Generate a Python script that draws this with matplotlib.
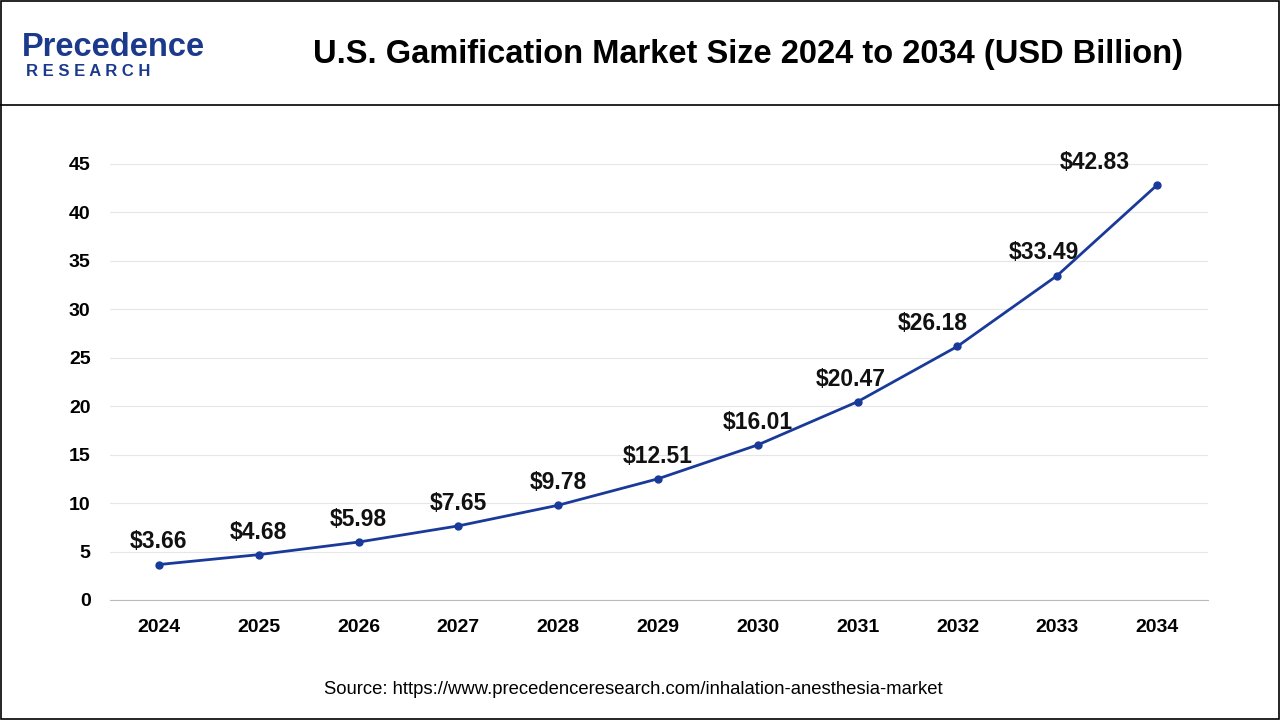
import matplotlib
matplotlib.use("Agg")
import matplotlib.pyplot as plt
from matplotlib.patches import Rectangle
from matplotlib.lines import Line2D

plt.rcParams["font.family"] = "Liberation Sans"

years = [2024, 2025, 2026, 2027, 2028, 2029, 2030, 2031, 2032, 2033, 2034]
values = [3.66, 4.68, 5.98, 7.65, 9.78, 12.51, 16.01, 20.47, 26.18, 33.49, 42.83]
labels = ["$3.66", "$4.68", "$5.98", "$7.65", "$9.78", "$12.51", "$16.01", "$20.47", "$26.18", "$33.49", "$42.83"]
yticks = [0, 5, 10, 15, 20, 25, 30, 35, 40, 45]

label_dx = [0, 0, 0, 0, 0, 0, 0, -5, -18, -10, -45]

color = "#1a3a9a"
fig = plt.figure(figsize=(12.8, 7.2), dpi=100)
fig.patches.append(Rectangle((0.001, 0.001), 0.998, 0.998, transform=fig.transFigure,
                             fill=False, edgecolor="black", linewidth=1.2))
fig.lines.append(Line2D([0, 1], [1 - 105/720]*2, transform=fig.transFigure, color="black", linewidth=1.2))

ax = fig.add_axes([110/1280, 1 - 600/720, 1098/1280, 436/720])
ax.plot(years, values, color=color, linewidth=2, marker="o", markersize=5)
for x, v, l, dx in zip(years, values, labels, label_dx):
    ax.annotate(l, (x, v), xytext=(dx, 8), textcoords="offset points", ha="center", va="bottom",
                fontsize=16.5, fontweight="bold", color="#111111")
ax.set_xlim(2023.51, 2034.51)
ax.set_ylim(0, 45)
ax.set_yticks(yticks)
ax.set_xticks(years)
ax.tick_params(length=0, labelsize=14, pad=14)
for t in ax.get_xticklabels() + ax.get_yticklabels():
    t.set_fontweight("bold")
ax.yaxis.grid(True, color="#e6e6e6", linewidth=0.8)
ax.set_axisbelow(True)
for s in ["top", "right", "left"]:
    ax.spines[s].set_visible(False)
ax.spines["bottom"].set_color("#bbbbbb")

fig.text(748/1280, 1 - 55/720, "U.S. Gamification Market Size 2024 to 2034 (USD Billion)",
         ha="center", va="center", fontsize=23.5, fontweight="bold")
fig.text(22/1280, 1 - 48/720, "Precedence", ha="left", va="center", fontsize=23.5,
         fontweight="bold", color="#1c3a8c")
fig.text(26/1280, 1 - 72/720, "R E S E A R C H", ha="left", va="center", fontsize=12,
         fontweight="bold", color="#1c3a8c")
fig.text(633/1280, 1 - 689/720, "Source: https://www.precedenceresearch.com/inhalation-anesthesia-market",
         ha="center", va="center", fontsize=13.3)
fig.savefig("out.png", dpi=100)
